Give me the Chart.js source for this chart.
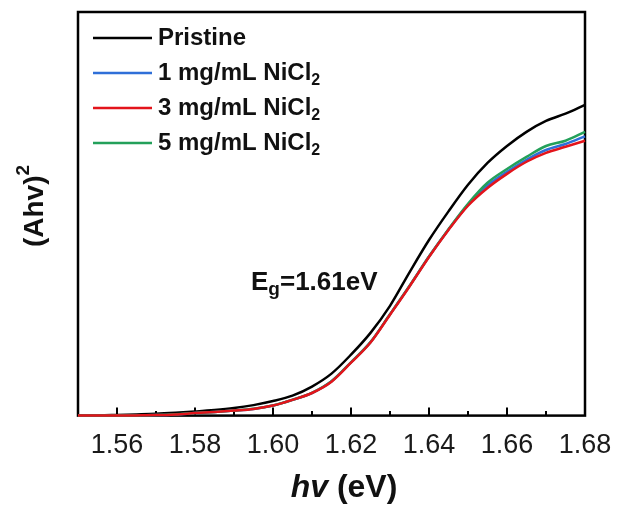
<!DOCTYPE html>
<html>
<head>
<meta charset="utf-8">
<script src="https://cdn.jsdelivr.net/npm/chart.js@4.4.1/dist/chart.umd.min.js"></script>
<style>
  html, body { margin: 0; padding: 0; background: #fff; }
  #wrap { width: 619px; height: 510px; }
</style>
</head>
<body>
<div id="wrap"><canvas id="chart"></canvas></div>
<script>
// photon energy (eV)
const energy = [1.55, 1.555, 1.56, 1.565, 1.57, 1.575, 1.58, 1.585, 1.59, 1.595, 1.60, 1.605, 1.61,
  1.615, 1.62, 1.625, 1.63, 1.635, 1.64, 1.645, 1.65, 1.655, 1.66, 1.665, 1.67, 1.675, 1.68];
// (Ahv)^2, arbitrary units
const pristine = [0, 0.05, 0.17, 0.3, 0.45, 0.7, 1.0, 1.36, 1.86, 2.6, 3.6, 4.95, 7.2,
  10.4, 15.1, 20.5, 27.2, 35.5, 43.5, 50.6, 57.2, 62.6, 66.8, 70.3, 73.0, 74.8, 77.0];
const nicl1 = [0, 0, 0, 0.05, 0.12, 0.3, 0.62, 0.9, 1.24, 1.66, 2.5, 3.9, 5.6,
  8.5, 13.2, 18.2, 25.1, 32.1, 39.4, 46.1, 52.2, 57.0, 60.4, 63.4, 65.8, 67.3, 69.2];
const nicl3 = [0, 0, 0, 0.05, 0.12, 0.3, 0.62, 0.9, 1.24, 1.66, 2.5, 3.9, 5.6,
  8.4, 13.1, 18.1, 25.0, 32.0, 39.3, 46.0, 52.0, 56.4, 59.9, 62.9, 65.1, 66.6, 68.1];
const nicl5 = [0, 0, 0, 0.05, 0.12, 0.31, 0.63, 0.91, 1.25, 1.68, 2.52, 3.93, 5.65,
  8.5, 13.2, 18.2, 25.1, 32.1, 39.4, 46.2, 52.5, 57.7, 61.1, 64.1, 66.8, 68.1, 70.3];
const xTicks = [1.56, 1.58, 1.60, 1.62, 1.64, 1.66, 1.68];
const xMinorTicks = [1.57, 1.59, 1.61, 1.63, 1.65, 1.67];

const FONT = '"Liberation Sans", Arial, sans-serif';

function pts(ys) {
  return energy.map((x, i) => ({ x: x, y: ys[i] }));
}

// draws a run of [text, font, dy] pieces starting at x
function drawParts(ctx, parts, x, y) {
  parts.forEach(p => {
    ctx.font = p[1];
    ctx.fillText(p[0], x, y + (p[2] || 0));
    x += ctx.measureText(p[0]).width;
  });
}
function partsWidth(ctx, parts) {
  let w = 0;
  parts.forEach(p => { ctx.font = p[1]; w += ctx.measureText(p[0]).width; });
  return w;
}

const decorations = {
  id: 'decorations',
  beforeDatasetsDraw(chart) {
    const { ctx, chartArea: a, scales } = chart;
    ctx.save();
    ctx.strokeStyle = '#000';
    ctx.lineWidth = 2.5;
    ctx.strokeRect(a.left, a.top, a.right - a.left, a.bottom - a.top);
    // inward ticks
    ctx.lineWidth = 2;
    ctx.beginPath();
    xTicks.forEach(v => {
      const px = scales.x.getPixelForValue(v);
      ctx.moveTo(px, a.bottom);
      ctx.lineTo(px, a.bottom - 8);
    });
    xMinorTicks.forEach(v => {
      const px = scales.x.getPixelForValue(v);
      ctx.moveTo(px, a.bottom);
      ctx.lineTo(px, a.bottom - 4.5);
    });
    ctx.stroke();
    ctx.restore();
  },
  afterDraw(chart) {
    const { ctx } = chart;
    ctx.save();
    ctx.fillStyle = '#111';
    ctx.textBaseline = 'middle';

    // legend
    const bold = 'bold 24px ' + FONT;
    const sub = 'bold 16px ' + FONT;
    chart.data.datasets.forEach((ds, i) => {
      const y = 38 + i * 35;
      ctx.strokeStyle = ds.borderColor;
      ctx.lineWidth = 2.5;
      ctx.beginPath();
      ctx.moveTo(93, y);
      ctx.lineTo(152, y);
      ctx.stroke();
      const txt = ds.label;
      if (txt.endsWith('₂')) {
        drawParts(ctx, [[txt.slice(0, -1), bold], ['2', sub, 8]], 158, y);
      } else {
        drawParts(ctx, [[txt, bold]], 158, y);
      }
    });

    // band gap annotation
    drawParts(ctx, [['E', 'bold 26px ' + FONT], ['g', 'bold 19px ' + FONT, 7],
      ['=1.61eV', 'bold 26px ' + FONT]], 251, 283);

    // x title
    const xt = [['hv', 'italic bold 32px ' + FONT], [' (eV)', 'bold 32px ' + FONT]];
    drawParts(ctx, xt, 344 - partsWidth(ctx, xt) / 2, 488);

    // y title
    ctx.translate(35, 206);
    ctx.rotate(-Math.PI / 2);
    const yt = [['(Ahv)', 'bold 28px ' + FONT], ['2', 'bold 19px ' + FONT, -11]];
    drawParts(ctx, yt, -partsWidth(ctx, yt) / 2, 0);
    ctx.restore();
  }
};

const lineStyle = {
  borderWidth: 2.5,
  pointRadius: 0,
  cubicInterpolationMode: 'monotone',
  clip: false
};

new Chart(document.getElementById('chart'), {
  type: 'line',
  data: {
    datasets: [
      { label: 'Pristine', data: pts(pristine), borderColor: '#000000', order: 3, ...lineStyle },
      { label: '1 mg/mL NiCl₂', data: pts(nicl1), borderColor: '#2f6fd8', order: 2, ...lineStyle },
      { label: '3 mg/mL NiCl₂', data: pts(nicl3), borderColor: '#e3141b', order: 0, ...lineStyle },
      { label: '5 mg/mL NiCl₂', data: pts(nicl5), borderColor: '#23a05a', order: 1, ...lineStyle }
    ]
  },
  options: {
    responsive: true,
    maintainAspectRatio: false,
    animation: false,
    layout: { padding: { left: 78, right: 34, top: 12, bottom: 34 } },
    plugins: { legend: { display: false }, tooltip: { enabled: false } },
    scales: {
      x: {
        type: 'linear',
        min: 1.55,
        max: 1.68,
        afterBuildTicks(scale) {
          scale.ticks = xTicks.map(v => ({ value: v }));
        },
        afterFit(scale) {
          // let the outer labels overhang into the layout padding
          scale.paddingLeft = 0;
          scale.paddingRight = 0;
        },
        grid: { display: false, drawTicks: false },
        border: { display: false },
        ticks: {
          padding: 14,
          color: '#1a1a1a',
          maxRotation: 0,
          font: { family: FONT, size: 27 },
          callback: v => v.toFixed(2)
        }
      },
      y: {
        min: 0,
        max: 100,
        display: false
      }
    }
  },
  plugins: [decorations]
});
</script>
</body>
</html>
